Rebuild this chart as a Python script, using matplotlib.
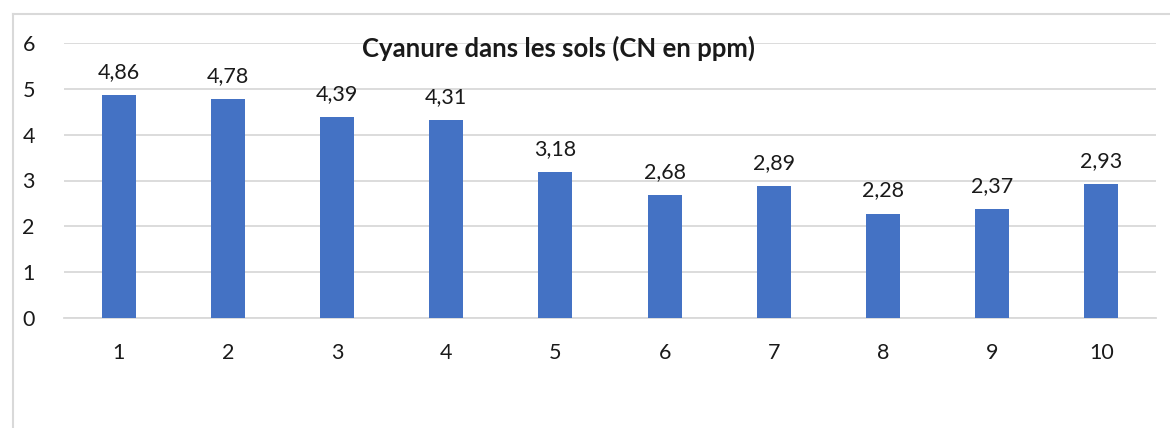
#/usr/bin/env python3

import numpy as np
import matplotlib
matplotlib.use('Agg')
import matplotlib.pyplot as plt
from matplotlib.lines import Line2D

# donnees du graphique
echantillons = ['1', '2', '3', '4', '5', '6', '7', '8', '9', '10']
cyanure = [4.86, 4.78, 4.39, 4.31, 3.18, 2.68, 2.89, 2.28, 2.37, 2.93]
titre = 'Cyanure dans les sols (CN en ppm)'

W, H = 1170, 428
plt.rcParams['font.family'] = ['Lato', 'DejaVu Sans']

fig = plt.figure(figsize=(W/100, H/100), dpi=100)
# zone de trace en pixels: x 64..1156, y 43..318
ax = fig.add_axes([64/W, 1-318/H, (1156-64)/W, (318-43)/H])

x = np.arange(len(echantillons))
bars = ax.bar(x, cyanure, width=0.31, color='#4472C4', zorder=3)

ax.set_xlim(-0.5, len(echantillons)-0.5)
ax.set_ylim(0, 6)
ax.set_yticks(range(7))
ax.set_xticks(x)
ax.set_xticklabels(echantillons)
ax.grid(axis='y', color='#D9D9D9', linewidth=1.3, zorder=0)
for s in ['top', 'right', 'left']:
    ax.spines[s].set_visible(False)
ax.spines['bottom'].set_color('#D9D9D9')
ax.spines['bottom'].set_linewidth(1.3)
ax.tick_params(length=0, labelsize=15.5, colors='#1a1a1a')
ax.tick_params(axis='x', pad=18)
ax.tick_params(axis='y', pad=21)

# etiquettes de valeurs
for xi, v in zip(x, cyanure):
    ax.annotate(f'{v:.2f}'.replace('.', ','), (xi, v), xytext=(0, 16.5),
                textcoords='offset points', ha='center', va='center',
                fontsize=15.5, color='#1a1a1a')

fig.text(558/W, 1-48/H, titre, ha='center', va='center',
         fontsize=18.5, fontweight='bold', color='#1a1a1a')

# cadre du graphique
fig.add_artist(Line2D([12.5/W, 12.5/W], [0, 1-14/H], color='#D9D9D9', lw=1.5))
fig.add_artist(Line2D([12.5/W, 1], [1-14/H, 1-14/H], color='#D9D9D9', lw=1.5))

fig.savefig('out.png', dpi=100)
